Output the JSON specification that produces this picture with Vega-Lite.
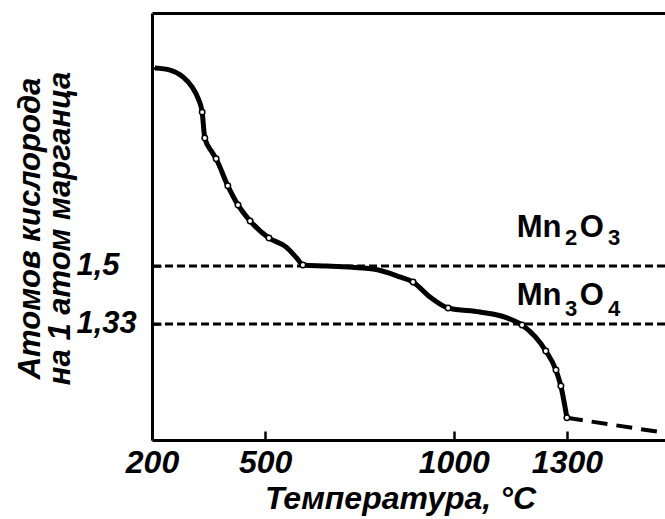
{
  "$schema": "https://vega.github.io/schema/vega-lite/v6.json",
  "width": 513,
  "height": 427,
  "autosize": {"type": "none"},
  "padding": {"left": 152, "top": 13, "right": 0, "bottom": 79},
  "background": "white",
  "config": {"view": {"stroke": null}, "font": "Liberation Sans"},
  "datasets": {
    "curve": [
      {"x": 208, "y": 2.08, "m": 0},
      {"x": 248, "y": 2.074, "m": 0},
      {"x": 282, "y": 2.054, "m": 0},
      {"x": 306, "y": 2.025, "m": 0},
      {"x": 322, "y": 1.992, "m": 0},
      {"x": 333, "y": 1.951, "m": 1},
      {"x": 340, "y": 1.875, "m": 1},
      {"x": 359, "y": 1.834, "m": 0},
      {"x": 370, "y": 1.814, "m": 1},
      {"x": 401, "y": 1.735, "m": 1},
      {"x": 428, "y": 1.679, "m": 1},
      {"x": 460, "y": 1.632, "m": 1},
      {"x": 510, "y": 1.582, "m": 1},
      {"x": 555, "y": 1.556, "m": 0},
      {"x": 584, "y": 1.523, "m": 0},
      {"x": 600, "y": 1.503, "m": 1},
      {"x": 664, "y": 1.5, "m": 0},
      {"x": 786, "y": 1.491, "m": 0},
      {"x": 857, "y": 1.468, "m": 0},
      {"x": 892, "y": 1.453, "m": 1},
      {"x": 937, "y": 1.409, "m": 0},
      {"x": 985, "y": 1.377, "m": 1},
      {"x": 1069, "y": 1.365, "m": 0},
      {"x": 1141, "y": 1.348, "m": 0},
      {"x": 1181, "y": 1.327, "m": 1},
      {"x": 1244, "y": 1.251, "m": 1},
      {"x": 1271, "y": 1.195, "m": 1},
      {"x": 1284, "y": 1.148, "m": 1},
      {"x": 1300, "y": 1.055, "m": 1}
    ],
    "levels": [{"y": 1.5}, {"y": 1.33}],
    "tail": [{"x": 1300, "y": 1.055}, {"x": 1560, "y": 1.011}],
    "main": [
      {"x": 1167, "y": 1.585, "t": "Mn"},
      {"x": 1334, "y": 1.585, "t": "O"},
      {"x": 1167, "y": 1.386, "t": "Mn"},
      {"x": 1334, "y": 1.386, "t": "O"}
    ],
    "subs": [
      {"x": 1295, "y": 1.5615, "t": "2"},
      {"x": 1409, "y": 1.5615, "t": "3"},
      {"x": 1295, "y": 1.353, "t": "3"},
      {"x": 1409, "y": 1.353, "t": "4"}
    ]
  },
  "encoding": {
    "y": {"field": "y", "type": "quantitative", "scale": {"domain": [0.99, 2.2415], "nice": false, "zero": false},
      "axis": {"values": [2.08, 1.5, 1.33], "grid": false, "domainWidth": 3, "domainColor": "black",
        "tickSize": -9, "tickWidth": 2.5, "tickColor": "black",
        "labelExpr": "datum.value == 1.5 ? '1,5' : (datum.value == 1.33 ? '1,33' : '')",
        "labelFontSize": 31, "labelFontStyle": "italic", "labelFontWeight": "bold", "labelColor": "black",
        "labelAlign": "left", "labelBaseline": "middle", "labelPadding": 85, "labelOverlap": false, "labelFlush": false,
        "title": ["Атомов кислорода", "на 1 атом марганца"], "titleFontSize": 31, "titleFontWeight": "bold", "titleFontStyle": "italic",
        "titleColor": "black", "titleAngle": 270, "titleX": -137, "titleY": 215, "titleBaseline": "top", "titleAlign": "center", "titleLineHeight": 30}}
  },
  "layer": [
    {
      "data": {"name": "levels"},
      "mark": {"type": "rule", "strokeDash": [8, 4], "strokeWidth": 3, "color": "black"}
    },
    {
      "data": {"name": "tail"},
      "mark": {"type": "line", "strokeDash": [16, 9], "strokeWidth": 4, "color": "black"},
      "encoding": {
        "x": {"field": "x", "type": "quantitative", "scale": {"domain": [200, 1560], "nice": false, "zero": false},
          "axis": {"orient": "top", "labels": false, "ticks": false, "domain": true, "domainWidth": 3, "domainColor": "black", "title": null, "grid": false}}
      }
    },
    {
      "data": {"name": "curve"},
      "mark": {"type": "line", "interpolate": "monotone", "strokeWidth": 5, "color": "black"},
      "encoding": {
        "x": {"field": "x", "type": "quantitative", "scale": {"domain": [200, 1560], "nice": false, "zero": false},
          "axis": {"orient": "bottom", "values": [200, 500, 1000, 1300], "format": "d", "grid": false, "domainWidth": 3, "domainColor": "black",
            "tickSize": -9, "tickWidth": 2.5, "tickColor": "black", "labelFontSize": 32, "labelFontStyle": "italic", "labelFontWeight": "bold",
            "labelColor": "black", "labelPadding": 16, "labelFlush": false, "labelOverlap": false,
            "title": "Температура, °C", "titleFontSize": 32, "titleFontStyle": "italic", "titleFontWeight": "bold", "titleColor": "black",
            "titleBaseline": "alphabetic", "titleY": 68, "titleX": 248, "titleAlign": "center"}}
      }
    },
    {
      "data": {"name": "curve"},
      "transform": [{"filter": "datum.m == 1"}],
      "mark": {"type": "point", "filled": true, "fill": "white", "stroke": "black", "strokeWidth": 1.5, "size": 30, "opacity": 1},
      "encoding": {
        "x": {"field": "x", "type": "quantitative", "scale": {"domain": [200, 1560], "nice": false, "zero": false}, "axis": null}
      }
    },
    {
      "data": {"name": "main"},
      "mark": {"type": "text", "align": "left", "baseline": "alphabetic", "fontSize": 31, "fontWeight": "bold", "color": "black"},
      "encoding": {
        "x": {"field": "x", "type": "quantitative", "scale": {"domain": [200, 1560], "nice": false, "zero": false}, "axis": null},
        "text": {"field": "t"}
      }
    },
    {
      "data": {"name": "subs"},
      "mark": {"type": "text", "align": "left", "baseline": "alphabetic", "fontSize": 22, "fontWeight": "bold", "color": "black"},
      "encoding": {
        "x": {"field": "x", "type": "quantitative", "scale": {"domain": [200, 1560], "nice": false, "zero": false}, "axis": null},
        "text": {"field": "t"}
      }
    }
  ],
  "resolve": {"axis": {"x": "independent"}}
}
